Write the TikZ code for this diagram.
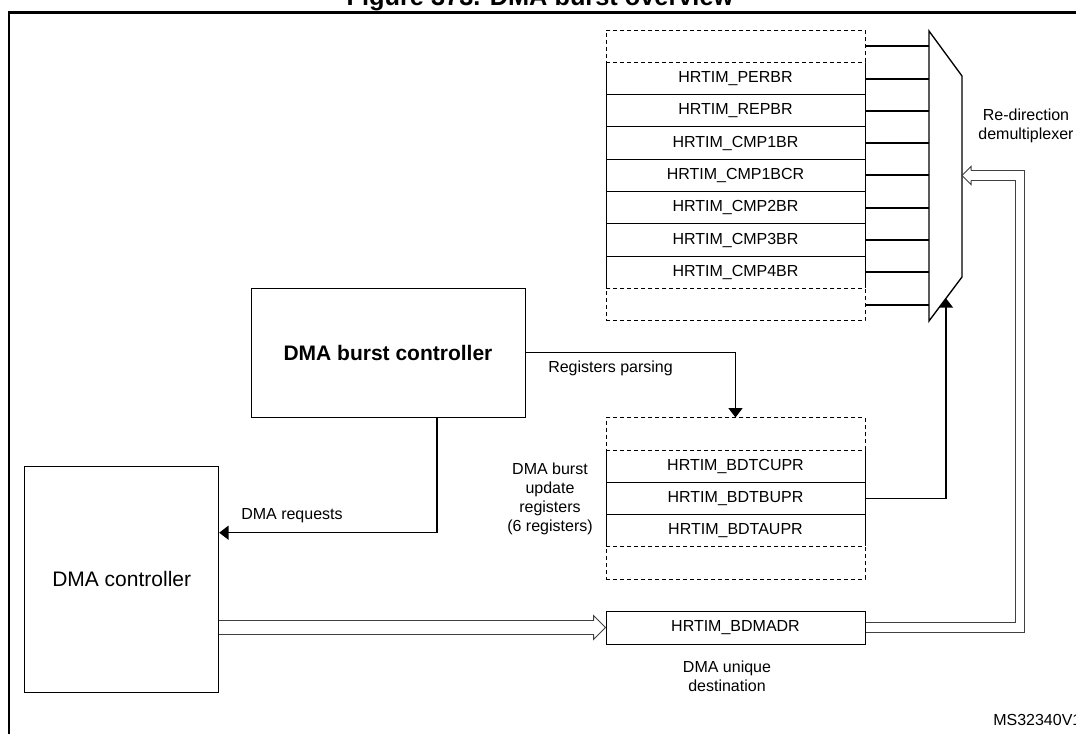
\documentclass[tikz,border=0pt]{standalone}
\usepackage{fontspec}
\setmainfont{Liberation Sans}
\usetikzlibrary{arrows.meta}

\begin{document}
\begin{tikzpicture}[x=0.75pt,y=-0.75pt,
    reg/.style={draw,line width=0.75pt,minimum width=194.25pt,minimum height=24.25pt,inner sep=0pt,font=\fontsize{12}{14}\selectfont},
    spare/.style={reg,dash pattern=on 3pt off 2.25pt,preaction={draw=white,solid,line width=1.5pt}},
    blk/.style={draw,line width=0.75pt,inner sep=0pt,font=\fontsize{15.75}{18}\selectfont},
    lbl/.style={inner sep=0pt,font=\fontsize{12}{14.25}\selectfont},
    arr/.style={line width=1pt,-{Triangle[length=7pt,width=10.5pt]}},
    dbl/.style={draw=black!75,line width=0.75pt,double=white,line join=miter},
    hollow/.style={draw=black!75,line width=0.75pt,line join=miter}]
    \useasboundingbox (0,0) rectangle (1076,733);
    \draw[line width=2pt] (9,760) -- (9,12.7) -- (1100,12.7);
    \node[anchor=base,inner sep=0pt,font=\bfseries\fontsize{19}{22}\selectfont] (title) at (540,5.5) {Figure 373. DMA burst overview};

    \node[blk,minimum width=205.5pt,minimum height=96.75pt,font=\bfseries\fontsize{15.75}{18}\selectfont] (dbc) at (388,352.7) {DMA burst controller};
    \node[blk,minimum width=145.5pt,minimum height=169.5pt] (dmac) at (121.7,579.2) {DMA controller};

    \foreach \n [count=\i] in {PERBR,REPBR,CMP1BR,CMP1BCR,CMP2BR,CMP3BR,CMP4BR}
        \node[reg] (r\n) at (735.5,{30+32.33*(\i+0.5)}) {HRTIM\_\n};
    \node[spare] (rtop) at (735.5,46.2) {};
    \node[spare] (rbot) at (735.5,304.8) {};

    \foreach \n [count=\i] in {BDTCUPR,BDTBUPR,BDTAUPR}
        \node[reg] (b\n) at (735.5,{418+32.2*(\i+0.5)}) {HRTIM\_\n};
    \node[spare] (btop) at (735.5,434.1) {};
    \node[spare] (bbot) at (735.5,562.9) {};

    \node[reg,minimum height=24.75pt] (dest) at (735.5,627.5) {HRTIM\_BDMADR};

    \coordinate (mxa) at (929,31);
    \coordinate (mxb) at (962,76);
    \coordinate (mxc) at (962,277);
    \coordinate (mxd) at (929,321);
    \foreach \n in {rtop,rPERBR,rREPBR,rCMP1BR,rCMP1BCR,rCMP2BR,rCMP3BR,rCMP4BR,rbot}
        \draw[line width=1.5pt] (\n.east) -- (\n.east -| mxa);
    \draw[line width=1pt,fill=white] (mxa) -- (mxb) -- (mxc) -- (mxd) -- cycle;

    \draw[arr] (dbc.east) -| (btop.north);
    \coordinate (req) at (437,532.7);
    \draw[arr] (dbc.south -| req) |- (dmac.east |- req);
    \coordinate (mxin) at (946,298.3);
    \draw[arr] (bBDTBUPR.east) -| (mxin);

    \draw[dbl,double distance=9.75pt,shorten >=9pt] (dmac.east |- dest.west) -- (dest.west);
    \draw[hollow] ([shift={(-12,-7)}]dest.west) -- ++(0,-5) -- (dest.west) -- ([shift={(-12,12)}]dest.west) -- ++(0,-5);

    \coordinate (dup) at (1020,175.5);
    \coordinate (mxr) at (962,175.5);
    \draw[dbl,double distance=6.4pt] (dest.east) -| (dup) -- ([shift={(9,0)}]mxr);
    \draw[hollow] ([shift={(9,-4.8)}]mxr) -- ++(0,-4.2) -- (mxr) -- ([shift={(9,9)}]mxr) -- ++(0,-4.2);

    \node[lbl,anchor=west] (lparse) at (548,368) {Registers parsing};
    \node[lbl,anchor=west] (lreq) at (241,516) {DMA requests};
    \node[lbl,align=center] (lupd) at (550,498.5) {DMA burst\\update\\registers\\(6 registers)};
    \node[lbl,align=center] (ldest) at (727,676) {DMA unique\\destination};
    \node[lbl,align=center] (lmux) at (1026,126) {Re-direction\\demultiplexer};
    \node[lbl,anchor=west] (lms) at (993,720) {MS32340V1};
\end{tikzpicture}
\end{document}
